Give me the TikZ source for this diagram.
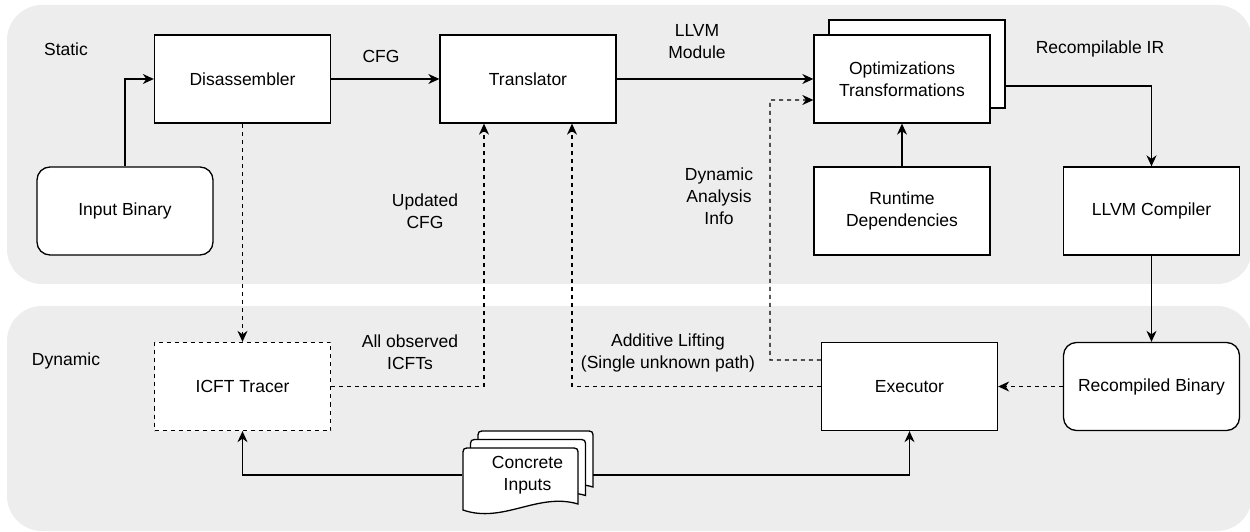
\documentclass[tikz,border=0pt]{standalone}
\usepackage{fontspec}
\setmainfont{Liberation Sans}
\usetikzlibrary{arrows.meta,calc}
\definecolor{panelgrey}{HTML}{EDEDED}

\begin{document}
\begin{tikzpicture}[x=1bp,y=-1bp,
  font=\fontsize{17.5bp}{22bp}\selectfont,
  line width=1.3bp,
  box/.style={draw, fill=white, minimum width=176bp, minimum height=88bp,
              align=center, inner sep=0pt},
  rbox/.style={box, rounded corners=13bp},
  dbox/.style={box, dash pattern=on 4bp off 4bp},
  arr/.style={-{Stealth[length=11bp,width=10bp,inset=3.5bp]}},
  darr/.style={arr, dash pattern=on 4bp off 4bp},
  lbl/.style={align=center, inner sep=0pt},
  panel/.style={fill=panelgrey, rounded corners=35bp}]

\useasboundingbox (0,0) rectangle (1250,532);

% background panels
\fill[panel] (7,5) rectangle (1252,284);
\fill[panel] (7,306) rectangle (1252,531);
\node[lbl] (lstatic) at (66,49) {Static};
\node[lbl] (ldynamic) at (66,361) {Dynamic};

% static stage
\node[box]  (dis)  at (242.5,79)   {Disassembler};
\node[box]  (tra)  at (528,79)     {Translator};
\node[box]  (optb) at (917,64)     {};
\node[box]  (opt)  at (902,79)     {Optimizations\\Transformations};
\node[rbox] (inb)  at (125,211)    {Input Binary};
\node[box]  (rt)   at (902,211)    {Runtime\\Dependencies};
\node[box]  (llc)  at (1151.5,211) {LLVM Compiler};

% dynamic stage
\node[dbox] (icft) at (242.5,386.5) {ICFT Tracer};
\node[box]  (exe)  at (909.5,386.5) {Executor};
\node[rbox] (rcb)  at (1151.5,386.5) {Recompiled Binary};

% stacked documents
\foreach \dx/\dy in {478/431, 470.5/439.5, 463/448}
  \draw[fill=white, shift={(\dx,\dy)}]
    (0,62) -- (0,8) .. controls (0,0) .. (8,0) -- (107,0)
    .. controls (115,0) .. (115,8) -- (115,56)
    .. controls (75,44) and (40,76) .. (0,62) -- cycle;
\node[lbl, minimum width=129bp, minimum height=40bp] (ci) at (527.5,475) {Concrete\\Inputs};

% solid connectors
\draw[arr] (inb.north) |- (dis.west);
\draw[arr] (dis.east) -- (tra.west);
\draw[arr] (tra.east) -- (opt.west);
\draw[arr] (rt.north) -- (opt.south);
\draw[arr] ([yshift=-22bp]optb.east) -| (llc.north);
\draw[arr] (llc.south) -- (rcb.north);
\draw[arr] (ci.west) -| (icft.south);
\draw[arr] (ci.east) -| (exe.south);

% dashed connectors
\coordinate (dabend) at (770,100);
\draw[darr] (dis.south) -- (icft.north);
\draw[darr] (rcb.west) -- (exe.east);
\draw[darr] (icft.east) -| ([xshift=-44bp]tra.south);
\draw[darr] (exe.west) -| ([xshift=44bp]tra.south);
\draw[darr] ([yshift=26.5bp]exe.west) -| (dabend) -- ([yshift=-21bp]opt.west);

% connector labels
\node[lbl] (lcfg)  at (381,56)  {CFG};
\node[lbl] (lmod)  at (697,42)  {LLVM\\Module};
\node[lbl] (lir)   at (1100,49) {Recompilable IR};
\node[lbl] (lucfg) at (425,211) {Updated\\CFG};
\node[lbl] (ldai)  at (719,196) {Dynamic\\Analysis\\Info};
\node[lbl] (lobs)  at (410,352.5) {All observed\\ICFTs};
\node[lbl] (ladd)  at (668,352.5) {Additive Lifting\\(Single unknown path)};
\end{tikzpicture}
\end{document}
